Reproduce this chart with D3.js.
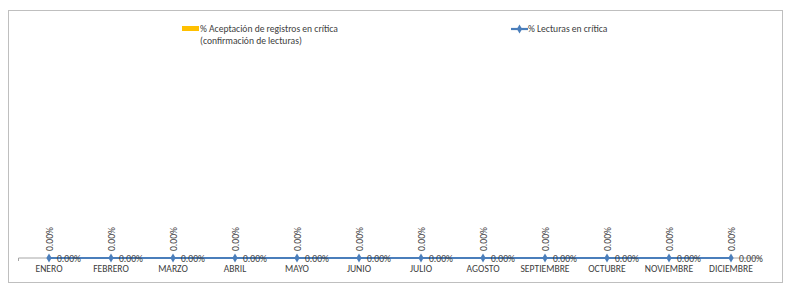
<!DOCTYPE html>
<html lang="es">
<head>
    <meta charset="UTF-8">
    <title>% Lecturas en crítica</title>
    <script src="https://d3js.org/d3.v7.min.js"></script>
    <style>
        body { margin: 0; background: #fff; }
        svg text { font-family: Carlito, "Liberation Sans Narrow", "Liberation Sans", sans-serif; fill: #404040; }
    </style>
</head>
<body>
    <div id="chart"></div>
    <script>
        const months = ["ENERO", "FEBRERO", "MARZO", "ABRIL", "MAYO", "JUNIO", "JULIO", "AGOSTO", "SEPTIEMBRE", "OCTUBRE", "NOVIEMBRE", "DICIEMBRE"];
        const aceptacion = [0, 0, 0, 0, 0, 0, 0, 0, 0, 0, 0, 0];
        const lecturas = [0, 0, 0, 0, 0, 0, 0, 0, 0, 0, 0, 0];
        const yDomain = [0, 1];

        const W = 794, H = 285;
        const svg = d3.select("#chart").append("svg")
            .attr("width", W)
            .attr("height", H);

        // chart frame
        svg.append("rect")
            .attr("x", 8.5).attr("y", 10.5)
            .attr("width", 774).attr("height", 272)
            .attr("fill", "#fff")
            .attr("stroke", "#bfbfbf");

        const plot = { left: 18, right: 762, top: 60, bottom: 258 };
        const fs = "9.6px";

        const x = d3.scaleBand()
            .domain(months)
            .range([plot.left, plot.right]);

        const y = d3.scaleLinear()
            .domain(yDomain)
            .range([plot.bottom, plot.top]);

        const fmt = d => d3.format(".2%")(d);

        // bars (yellow)
        svg.append("g").selectAll("rect")
            .data(aceptacion)
            .enter().append("rect")
            .attr("x", (d, i) => x(months[i]) + x.bandwidth() * 0.2)
            .attr("width", x.bandwidth() * 0.6)
            .attr("y", d => y(d))
            .attr("height", d => y(0) - y(d))
            .attr("fill", "#FFC000");

        // x axis
        const xAxis = svg.append("g")
            .attr("transform", `translate(0,${y(0)})`)
            .call(d3.axisBottom(x).tickSize(0).tickPadding(7));
        xAxis.select(".domain").attr("stroke", "#a6a6a6").attr("d", `M${plot.left + 0.5},3V0H${plot.right}`);
        xAxis.selectAll("text")
            .style("font-size", fs)
            .style("font-family", "Carlito, 'Liberation Sans Narrow', 'Liberation Sans', sans-serif")
            .attr("fill", "#404040");

        // bar labels (rotated)
        svg.append("g").selectAll("text")
            .data(aceptacion)
            .enter().append("text")
            .attr("transform", (d, i) => `translate(${x(months[i]) + x.bandwidth() / 2 + 3.5},${y(d) - 7}) rotate(-90)`)
            .attr("text-anchor", "start")
            .style("font-size", fs)
            .text(d => fmt(d));

        // line
        const line = d3.line()
            .x((d, i) => x(months[i]) + x.bandwidth() / 2)
            .y(d => y(d));

        svg.append("path")
            .datum(lecturas)
            .attr("d", line)
            .attr("fill", "none")
            .attr("stroke", "#4a7ebb")
            .attr("stroke-width", 2.2);

        const diamond = d3.symbol().type(d3.symbolDiamond).size(24);

        svg.append("g").selectAll("path")
            .data(lecturas)
            .enter().append("path")
            .attr("d", diamond)
            .attr("transform", (d, i) => `translate(${x(months[i]) + x.bandwidth() / 2},${y(d)})`)
            .attr("fill", "#4a7ebb");

        svg.append("g").selectAll("text")
            .data(lecturas)
            .enter().append("text")
            .attr("x", (d, i) => x(months[i]) + x.bandwidth() / 2 + 8)
            .attr("y", d => y(d) + 3.5)
            .style("font-size", fs)
            .text(d => fmt(d));

        // legend
        const leg = svg.append("g");
        leg.append("rect")
            .attr("x", 182).attr("y", 26)
            .attr("width", 17).attr("height", 5)
            .attr("fill", "#FFC000");
        leg.append("text")
            .attr("x", 200).attr("y", 32)
            .style("font-size", fs)
            .text("% Aceptación de registros en crítica");
        leg.append("text")
            .attr("x", 200).attr("y", 44)
            .style("font-size", fs)
            .text("(confirmación de lecturas)");

        leg.append("line")
            .attr("x1", 511).attr("x2", 528)
            .attr("y1", 29).attr("y2", 29)
            .attr("stroke", "#4a7ebb").attr("stroke-width", 2.2);
        leg.append("path")
            .attr("d", diamond)
            .attr("transform", "translate(519.5,29)")
            .attr("fill", "#4a7ebb");
        leg.append("text")
            .attr("x", 528).attr("y", 32)
            .style("font-size", fs)
            .text("% Lecturas en crítica");
    </script>
</body>
</html>
